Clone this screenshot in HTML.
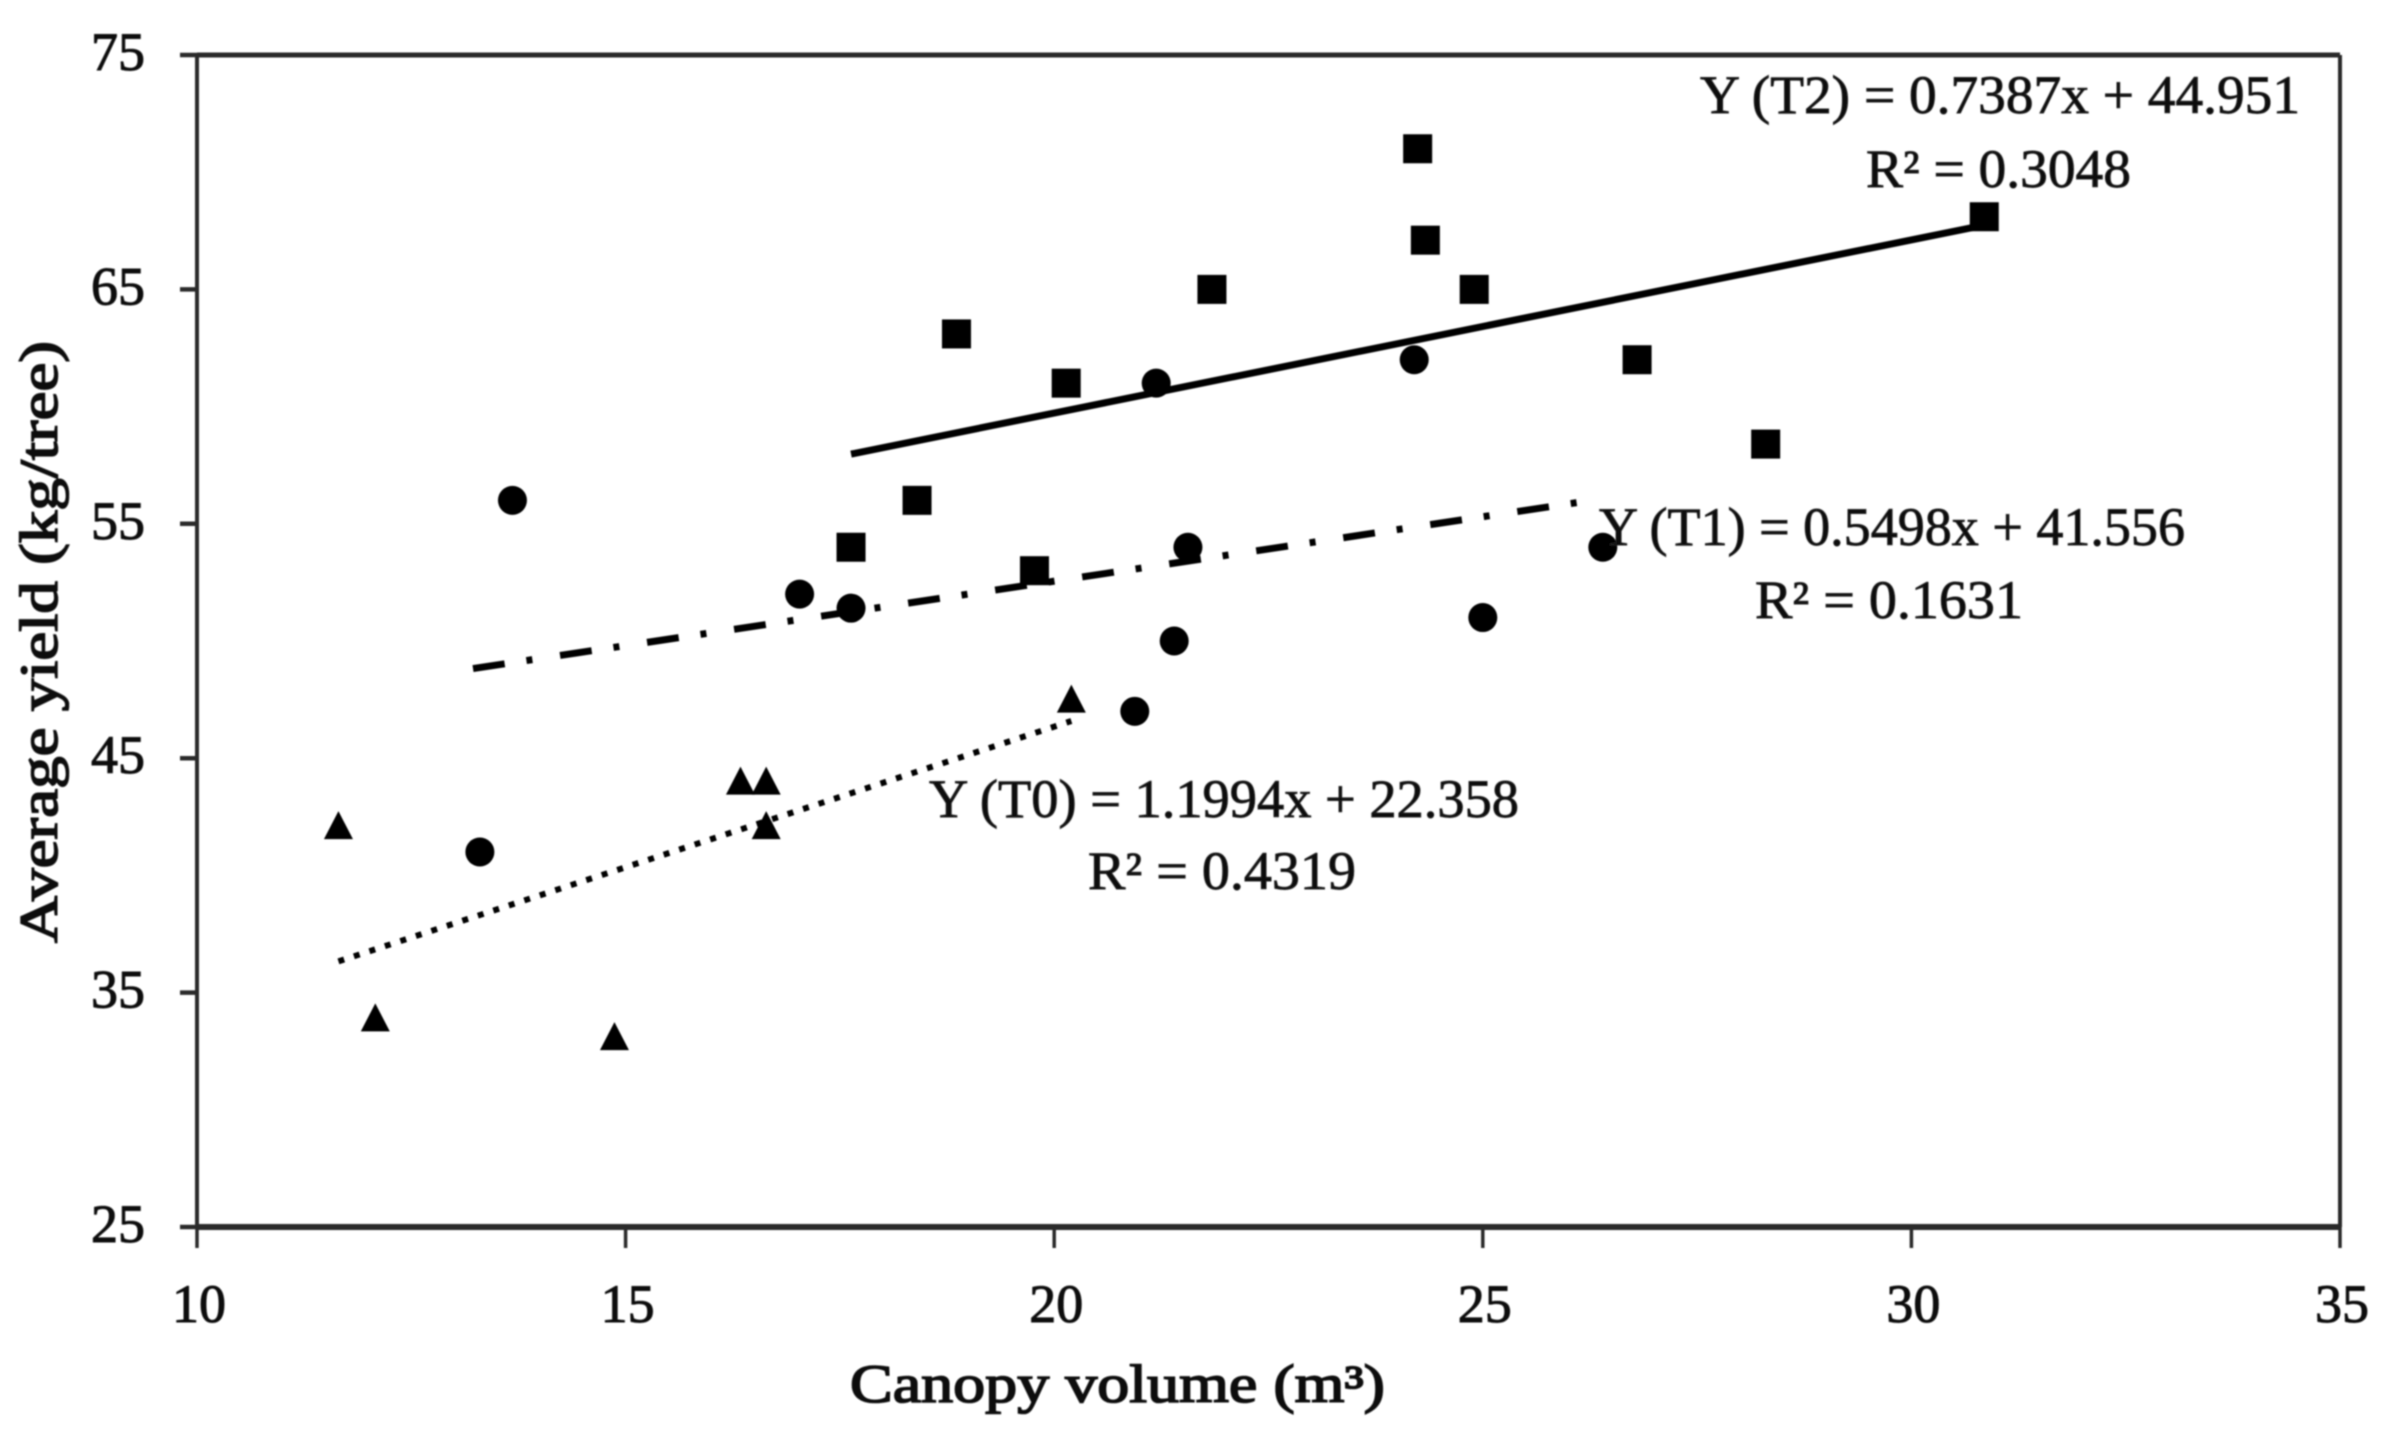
<!DOCTYPE html>
<html lang="en">
<head>
<meta charset="utf-8">
<title>Average yield vs canopy volume</title>
<style>
html,body{margin:0;padding:0;background:#fff;width:2387px;height:1440px;overflow:hidden}
svg{display:block}
text{font-family:"Liberation Serif",serif;fill:#111}
.num{font-size:54px;stroke:#111;stroke-width:1px}
.eq{font-size:54px;stroke:#222;stroke-width:.9px}
.title{font-size:54px;font-weight:normal;stroke:#111;stroke-width:1.6px}
</style>
</head>
<body>
<svg id="chart" xmlns="http://www.w3.org/2000/svg" width="2387" height="1440" viewBox="0 0 2387 1440">
<defs><filter id="soft" x="-2%" y="-2%" width="104%" height="104%"><feGaussianBlur stdDeviation="0.9"/></filter></defs>
<rect width="2387" height="1440" fill="#fff"/>
<g id="root" filter="url(#soft)">
<g id="axes"></g>
<g id="trends"></g>
<g id="marks"></g>
<text class="title" x="57" y="943" transform="rotate(-90 57 943)" textLength="602" lengthAdjust="spacingAndGlyphs">Average yield (kg/tree)</text>
<text class="title" x="850" y="1402" textLength="535" lengthAdjust="spacingAndGlyphs">Canopy volume (m³)</text>
<text class="eq" x="1700" y="113" textLength="600" lengthAdjust="spacingAndGlyphs">Y (T2)  = 0.7387x + 44.951</text>
<text class="eq" x="1866" y="187" textLength="265" lengthAdjust="spacingAndGlyphs">R² = 0.3048</text>
<text class="eq" x="1599" y="545" textLength="586" lengthAdjust="spacingAndGlyphs">Y (T1) = 0.5498x + 41.556</text>
<text class="eq" x="1755" y="618" textLength="268" lengthAdjust="spacingAndGlyphs">R² = 0.1631</text>
<text class="eq" x="929" y="817" textLength="590" lengthAdjust="spacingAndGlyphs">Y (T0) = 1.1994x + 22.358</text>
<text class="eq" x="1088" y="889" textLength="268" lengthAdjust="spacingAndGlyphs">R² = 0.4319</text>
</g>
</svg>
<script>
const xTicks = [10, 15, 20, 25, 30, 35];
const yTicks = [25, 35, 45, 55, 65, 75];

const t2X = [17.63, 18.4, 18.86, 19.77, 20.14, 21.84, 24.24, 24.33, 24.9, 26.8, 28.3, 30.85];
const t2Y = [54, 56, 63.1, 53, 61, 65, 71, 67.1, 65, 62, 58.4, 68.1];
const t1X = [13.68, 13.3, 17.03, 17.63, 20.94, 21.19, 21.4, 21.56, 24.2, 25, 26.4];
const t1Y = [56, 41, 52, 51.4, 47, 61, 50, 54, 62, 51, 54];
const t0X = [11.65, 12.08, 14.87, 16.34, 16.64, 16.64, 20.2];
const t0Y = [42.1, 33.9, 33.1, 44, 44, 42.1, 47.5];

const trendNames = ['t2', 't1', 't0'];
const trendSlopes = [0.7387, 0.5498, 1.1994];
const trendIntercepts = [44.951, 41.556, 22.358];
const trendStarts = [17.63, 13.22, 11.65];
const trendEnds = [30.85, 26.3, 20.2];

const NS = 'http://www.w3.org/2000/svg';
const plotLeft = 197, plotRight = 2340, plotTop = 55, plotBottom = 1227;
const xMin = 10, xMax = 35, yMin = 25, yMax = 75;
function sx(v) { return plotLeft + (v - xMin) / (xMax - xMin) * (plotRight - plotLeft); }
function sy(v) { return plotBottom - (v - yMin) / (yMax - yMin) * (plotBottom - plotTop); }
function make(tag, parent, attrs) {
  const el = document.createElementNS(NS, tag);
  for (const k in attrs) el.setAttribute(k, attrs[k]);
  parent.appendChild(el);
  return el;
}
const axes = document.getElementById('axes');
const trends = document.getElementById('trends');
const marks = document.getElementById('marks');
const axisColor = '#2a2a2a';

const frameTop = make('line', axes, {x1: plotLeft, y1: plotTop, x2: plotRight, y2: plotTop, stroke: axisColor, 'stroke-width': 5});


const frameRight = make('line', axes, {x1: plotRight, y1: plotTop, x2: plotRight, y2: plotBottom, stroke: axisColor, 'stroke-width': 4});


const xAxisLine = make('line', axes, {x1: plotLeft, y1: plotBottom, x2: plotRight, y2: plotBottom, stroke: axisColor, 'stroke-width': 6});


const yAxisLine = make('line', axes, {x1: plotLeft, y1: plotTop, x2: plotLeft, y2: plotBottom, stroke: axisColor, 'stroke-width': 4});



xTicks.forEach(function (t) {
  const tick = make('line', axes, {x1: sx(t), y1: plotBottom, x2: sx(t), y2: plotBottom + 21, stroke: axisColor, 'stroke-width': 3.5});
  
  
  const label = make('text', axes, {x: sx(t) + 2, y: 1322, 'text-anchor': 'middle', class: 'num'});
  label.textContent = t;
  
  
});
yTicks.forEach(function (t) {
  const tick = make('line', axes, {x1: plotLeft - 17, y1: sy(t), x2: plotLeft, y2: sy(t), stroke: axisColor, 'stroke-width': 4.5});
  
  
  const label = make('text', axes, {x: 145, y: sy(t) + 15, 'text-anchor': 'end', class: 'num'});
  label.textContent = t;
  
  
});

const trendWidths = {t2: 7, t1: 7, t0: 6};
const trendDash = {t2: 'none', t1: '32 22 6 28', t0: '6 10.3'};
trendNames.forEach(function (name, i) {
  const y1 = trendSlopes[i] * trendStarts[i] + trendIntercepts[i];
  const y2 = trendSlopes[i] * trendEnds[i] + trendIntercepts[i];
  const line = make('line', trends, {x1: sx(trendStarts[i]), y1: sy(y1), x2: sx(trendEnds[i]), y2: sy(y2), stroke: '#000', 'stroke-width': trendWidths[name], 'stroke-dasharray': trendDash[name]});
  
  
});

t2X.forEach(function (x, i) {
  const s = make('rect', marks, {x: sx(x) - 14.5, y: sy(t2Y[i]) - 14.5, width: 29, height: 29, fill: '#000'});
  
  
});
t1X.forEach(function (x, i) {
  const c = make('circle', marks, {cx: sx(x), cy: sy(t1Y[i]), r: 14.5, fill: '#000'});
  
  
});
t0X.forEach(function (x, i) {
  const px = sx(x), py = sy(t0Y[i]) - 1;
  const p = make('polygon', marks, {points: (px - 14.5) + ',' + (py + 14) + ' ' + (px + 14.5) + ',' + (py + 14) + ' ' + px + ',' + (py - 14), fill: '#000'});
  
  
});
</script>
</body>
</html>
